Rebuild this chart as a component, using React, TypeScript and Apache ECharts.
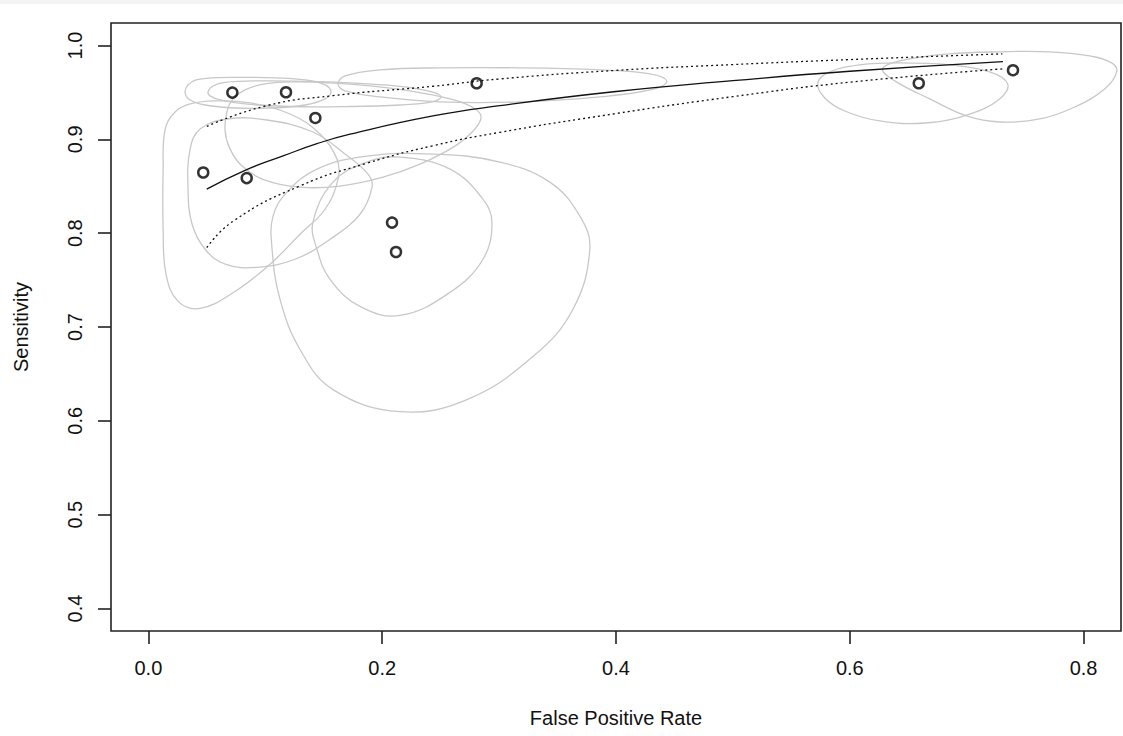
import React, { useEffect, useRef } from "react";
import * as echarts from "echarts";

// Study points (False Positive Rate, Sensitivity)
const FPR = [0.0469, 0.0718, 0.1177, 0.1428, 0.0841, 0.2084, 0.2118, 0.2808, 0.659, 0.7396];
const SENS = [0.8647, 0.9498, 0.9502, 0.9228, 0.8587, 0.8113, 0.7799, 0.9598, 0.9598, 0.9737];

// SROC curve and its confidence band
const SROC = [
  [0.0499, 0.8469], [0.0827, 0.867], [0.1152, 0.8823], [0.1442, 0.8954], [0.1725, 0.9055],
  [0.2434, 0.925], [0.3007, 0.9359], [0.4, 0.951], [0.5, 0.9625], [0.6, 0.9726], [0.731, 0.9829],
];
const BAND_UPPER = [
  [0.05, 0.9139], [0.1012, 0.9359], [0.158, 0.9466], [0.2434, 0.9566], [0.3007, 0.9644],
  [0.4, 0.9735], [0.5, 0.9797], [0.6, 0.985], [0.7305, 0.9911],
];
const BAND_LOWER = [
  [0.05, 0.7846], [0.0727, 0.813], [0.1297, 0.8504], [0.1867, 0.8745], [0.2434, 0.8932],
  [0.3007, 0.9075], [0.4, 0.9275], [0.5, 0.9455], [0.6, 0.9609], [0.7305, 0.9751],
];

// Confidence regions for each study
const REGION_1 = [
  [0.0143, 0.911], [0.0228, 0.9292], [0.0357, 0.9377], [0.057, 0.9409], [0.087, 0.9388],
  [0.1212, 0.927], [0.1468, 0.9057], [0.1613, 0.879], [0.1622, 0.8576], [0.1511, 0.8255],
  [0.1297, 0.7989], [0.1041, 0.7669], [0.0741, 0.7379], [0.0442, 0.7198], [0.0254, 0.7273],
  [0.0151, 0.7561], [0.0126, 0.8042], [0.0126, 0.8683],
];
const REGION_2 = [
  [0.0314, 0.9495], [0.0339, 0.958], [0.0408, 0.9634], [0.0545, 0.9655], [0.0784, 0.966],
  [0.1083, 0.9655], [0.134, 0.9634], [0.1511, 0.958], [0.1562, 0.9505], [0.1511, 0.9431],
  [0.134, 0.9366], [0.1041, 0.9334], [0.0741, 0.9334], [0.0485, 0.9366], [0.0357, 0.942],
];
const REGION_3 = [
  [0.051, 0.9505], [0.0553, 0.9569], [0.0656, 0.9607], [0.0955, 0.9623], [0.1382, 0.9618],
  [0.181, 0.9596], [0.2195, 0.9559], [0.2425, 0.9505], [0.2503, 0.9452], [0.2425, 0.9399],
  [0.2152, 0.9366], [0.1725, 0.935], [0.1212, 0.935], [0.0827, 0.9377], [0.0613, 0.942],
  [0.0528, 0.9463],
];
const REGION_4 = [
  [0.0673, 0.9302], [0.0724, 0.9431], [0.0827, 0.9527], [0.0997, 0.9591], [0.1254, 0.9612],
  [0.1554, 0.9601], [0.1895, 0.9569], [0.2237, 0.9516], [0.258, 0.9431], [0.2768, 0.9345],
  [0.2845, 0.9249], [0.2793, 0.911], [0.2622, 0.8928], [0.2323, 0.8736], [0.2007, 0.8597],
  [0.1639, 0.8501], [0.1297, 0.849], [0.0997, 0.8565], [0.0801, 0.8715], [0.0699, 0.8896],
  [0.0656, 0.9089],
];
const REGION_5 = [
  [0.0357, 0.8896], [0.0442, 0.911], [0.0673, 0.9217], [0.1015, 0.9206], [0.1408, 0.9078],
  [0.1682, 0.8843], [0.1879, 0.8629], [0.1913, 0.849], [0.181, 0.8202], [0.1554, 0.7935],
  [0.1254, 0.7722], [0.0929, 0.7636], [0.0656, 0.7669], [0.0485, 0.7829], [0.0374, 0.8095],
  [0.0339, 0.8469],
];
const REGION_6 = [
  [0.1408, 0.8117], [0.1579, 0.8544], [0.187, 0.8758], [0.2152, 0.8811], [0.258, 0.8683],
  [0.2862, 0.8362], [0.2939, 0.8117], [0.2862, 0.7722], [0.258, 0.7369], [0.2152, 0.7123],
  [0.181, 0.7219], [0.1554, 0.7508], [0.1442, 0.7829],
];
const REGION_7 = [
  [0.1066, 0.8181], [0.1058, 0.7829], [0.1126, 0.7294], [0.1297, 0.676], [0.1579, 0.6333],
  [0.2152, 0.6097], [0.2725, 0.6226], [0.3289, 0.6685], [0.3631, 0.7187], [0.3776, 0.7829],
  [0.3691, 0.8181], [0.3434, 0.8544], [0.3007, 0.8758], [0.2434, 0.8843], [0.187, 0.8822],
  [0.1442, 0.8683], [0.1186, 0.8437],
];
const REGION_8 = [
  [0.1622, 0.9591], [0.1682, 0.9676], [0.1981, 0.974], [0.2494, 0.9762], [0.3178, 0.9762],
  [0.3862, 0.974], [0.429, 0.9698], [0.4435, 0.9623], [0.4332, 0.9537], [0.3862, 0.9452],
  [0.3178, 0.9399], [0.2494, 0.9399], [0.1981, 0.9452], [0.1682, 0.9516],
];
const REGION_9 = [
  [0.5726, 0.9601], [0.5828, 0.9719], [0.6085, 0.9794], [0.6427, 0.9815], [0.6855, 0.9794],
  [0.7197, 0.9719], [0.7351, 0.9591], [0.7282, 0.9431], [0.7026, 0.927], [0.6641, 0.9174],
  [0.6256, 0.9196], [0.5957, 0.9302], [0.5786, 0.9441],
];
const REGION_10 = [
  [0.628, 0.9751], [0.6427, 0.9837], [0.6855, 0.9911], [0.7282, 0.9933], [0.771, 0.9933],
  [0.8052, 0.989], [0.824, 0.9815], [0.8283, 0.9719], [0.818, 0.9537], [0.7924, 0.9345],
  [0.7624, 0.9217], [0.7282, 0.9185], [0.7, 0.9249], [0.6684, 0.9431], [0.6385, 0.9623],
];
const REGIONS = [
  REGION_1, REGION_2, REGION_3, REGION_4, REGION_5,
  REGION_6, REGION_7, REGION_8, REGION_9, REGION_10,
];

const X_TICKS = [0, 0.2, 0.4, 0.6, 0.8];
const Y_TICKS = [0.4, 0.5, 0.6, 0.7, 0.8, 0.9, 1.0];

const FONT = "Liberation Sans";

export default function App() {
  const ref = useRef<HTMLDivElement>(null);
  useEffect(() => {
    const chart = echarts.init(ref.current!, null, { renderer: "svg" });
    const axisText = { fontSize: 20, color: "#111", fontFamily: FONT };
    chart.setOption({
      animation: false,
      backgroundColor: "#fff",
      graphic: [
        { type: "rect", left: 0, top: 0, shape: { width: 1123, height: 4 }, style: { fill: "#f4f4f4" }, silent: true },
      ],
      grid: {
        left: 111, top: 23, width: 1010, height: 608,
        show: true, borderColor: "#222", borderWidth: 1.6, backgroundColor: "transparent",
      },
      xAxis: {
        type: "value", min: -0.032, max: 0.832,
        axisLine: { show: false, onZero: false }, splitLine: { show: false },
        axisTick: { show: true, customValues: X_TICKS, length: 13, lineStyle: { color: "#222", width: 1.6 } },
        axisLabel: { customValues: X_TICKS, formatter: (v: number) => v.toFixed(1), margin: 27, ...axisText },
        name: "False Positive Rate", nameLocation: "middle", nameGap: 77, nameTextStyle: axisText,
      },
      yAxis: {
        type: "value", min: 0.376, max: 1.024,
        axisLine: { show: false, onZero: false }, splitLine: { show: false },
        axisTick: { show: true, customValues: Y_TICKS, length: 13, lineStyle: { color: "#222", width: 1.6 } },
        axisLabel: { customValues: Y_TICKS, formatter: (v: number) => v.toFixed(1), rotate: 90, margin: 26, ...axisText },
        name: "Sensitivity", nameLocation: "middle", nameGap: 80, nameTextStyle: axisText,
      },
      series: [
        {
          type: "custom",
          data: FPR.map((x, i) => [x, SENS[i]]),
          encode: { x: 0, y: 1 },
          z: 1,
          silent: true,
          renderItem: (params: any, api: any) => {
            const pts = REGIONS[params.dataIndex].map((p) => api.coord(p));
            return {
              type: "polygon",
              shape: { points: pts, smooth: 0.4 },
              style: { fill: "none", stroke: "#c8c8c8", lineWidth: 1.3 },
            };
          },
        },
        {
          type: "line", data: SROC, showSymbol: false, smooth: true, z: 2,
          lineStyle: { color: "#111", width: 1.3 },
        },
        {
          type: "line", data: BAND_UPPER, showSymbol: false, smooth: true, z: 2,
          lineStyle: { color: "#111", width: 1.3, type: [2, 3] },
        },
        {
          type: "line", data: BAND_LOWER, showSymbol: false, smooth: true, z: 2,
          lineStyle: { color: "#111", width: 1.3, type: [2, 3] },
        },
        {
          type: "scatter", data: FPR.map((x, i) => [x, SENS[i]]), z: 3,
          symbol: "circle", symbolSize: 10,
          itemStyle: { color: "rgba(0,0,0,0)", borderColor: "#000", borderWidth: 2.5 },
        },
      ],
    });
    return () => chart.dispose();
  }, []);
  return (
    <div
      ref={ref}
      style={{ position: "fixed", left: 0, top: 0, width: 1123, height: 736, background: "#fff" }}
    />
  );
}
